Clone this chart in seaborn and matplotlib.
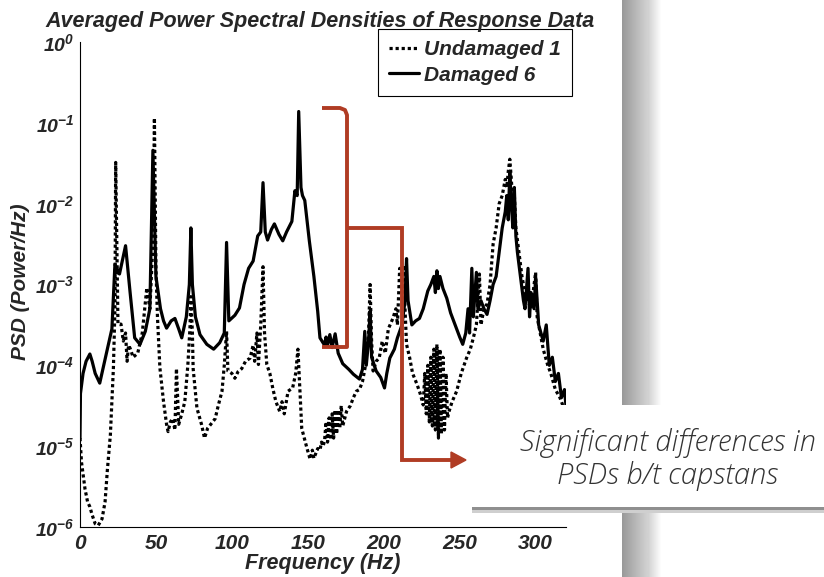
import numpy as np
import pandas as pd
import matplotlib
matplotlib.use("Agg")
import matplotlib.pyplot as plt
import matplotlib.ticker as mticker
from matplotlib.patches import Rectangle, Polygon
import seaborn as sns

# ── Data (PSD given as log10 values) ───────────────────────────────────────
undamaged_freq = [0, 1, 3.3, 5, 6.5, 8, 10, 12, 14.5, 16.5, 18, 20, 22, 23, 23.5, 24.5,
                  25, 27, 28.5, 30, 31, 32, 33, 35, 38, 41, 44, 46, 48, 49, 50, 51,
                  52.6, 55, 57, 58, 59.5, 61, 62.5, 63.5, 65, 67, 69, 71, 72.4, 73, 74, 74.5,
                  77, 80, 82, 84, 86.5, 89, 91, 93.5, 95, 96.5, 97.4, 100, 102, 104, 106.5, 109,
                  112, 114, 115, 116.5, 117.5, 119, 120.5, 121.5, 123, 125, 127, 129, 131.5, 133,
                  134.5, 137, 140, 142, 143.5, 145, 146, 149.5, 151.5, 153, 154, 156.5, 158, 159,
                  160, 161, 162, 163, 164, 165, 166, 167, 168, 169, 170, 171, 172, 173,
                  175.5, 178, 180, 182, 184, 186, 188, 190, 191, 192, 193, 195, 197, 199,
                  201, 203, 206, 208, 209, 210.5, 212, 213, 214, 215, 217, 219, 222, 224,
                  226, 227, 228, 229, 230, 231, 232, 233, 234, 235, 236, 237, 238, 239,
                  240, 241, 242, 243, 245, 248, 251, 254.5, 257, 259, 261, 263, 264, 266,
                  268, 270, 272, 274, 276, 278, 280, 281, 282, 283, 284, 285, 286, 287,
                  289, 291, 293, 295, 297, 299, 300, 301, 303, 305, 308, 310, 313, 316,
                  318, 320]
undamaged_log10psd = [-4.9, -5.2, -5.53, -5.69, -5.75, -5.85, -5.96, -5.98, -5.9, -5.69, -5.3, -4.86, -4.03, -3.3, -1.49, -2.8,
                      -3.49, -3.49, -3.7, -3.6, -3.95, -3.75, -3.79, -3.9, -3.85, -3.6, -3.04, -3.3, -2.5, -0.94, -2.8, -3.4,
                      -4.03, -4.45, -4.73, -4.82, -4.7, -4.66, -4.8, -4.04, -4.73, -4.6, -4.45, -4.0, -3.54, -3.15, -3.6, -4.04,
                      -4.53, -4.73, -4.9, -4.78, -4.72, -4.66, -4.5, -4.32, -4.0, -3.58, -4.07, -4.1, -4.16, -4.08, -4.04, -3.95,
                      -3.91, -3.75, -3.95, -3.6, -3.99, -3.5, -2.78, -3.6, -3.99, -4.1, -4.29, -4.45, -4.57, -4.45,
                      -4.6, -4.32, -4.28, -4.1, -3.8, -4.4, -4.78, -5.03, -5.16, -5.05, -5.15, -5.03, -5.05, -4.95,
                      -5.0, -4.94, -4.7, -4.95, -4.65, -4.92, -4.6, -4.9, -4.55, -4.85, -4.55, -4.78, -4.5, -4.75,
                      -4.57, -4.5, -4.4, -4.32, -4.3, -4.2, -4.0, -3.6, -3.0, -3.7, -4.07, -3.95, -3.91, -3.7,
                      -3.85, -3.55, -3.42, -3.3, -3.5, -2.8, -3.1, -2.76, -3.3, -3.74, -3.9, -4.1, -4.24, -4.35,
                      -4.49, -4.1, -4.6, -4.0, -4.7, -3.9, -4.75, -3.8, -4.8, -3.74, -4.9, -3.8, -4.85, -3.9,
                      -4.8, -4.1, -4.65, -4.57, -4.45, -4.32, -4.1, -3.91, -3.8, -3.66, -3.5, -2.87, -3.5, -3.3,
                      -3.24, -3.0, -2.5, -2.3, -2.0, -1.9, -1.7, -1.8, -1.6, -1.45, -1.7, -2.0, -1.9, -2.3,
                      -2.6, -2.9, -3.1, -3.2, -3.3, -3.0, -2.85, -3.4, -3.6, -3.8, -4.0, -4.1, -4.3, -4.4,
                      -4.5, -4.55]

damaged_freq = [0, 0.3, 2, 4, 6.5, 8, 10, 13, 15, 18, 21, 23, 26, 30, 33, 36,
                39.5, 43, 46, 48, 50, 53, 55, 57, 60, 62.5, 65, 67, 70, 72, 73, 74,
                76, 79, 83.5, 88, 92, 95, 96.5, 98, 102, 105, 108, 111, 114, 117,
                119, 120.5, 122, 123.5, 126, 128, 131, 133.5, 136, 139.5, 141.5, 143, 144, 145.5,
                146.5, 148, 151, 154, 156.5, 158, 161, 162, 163, 164.5, 166, 168, 170, 173,
                177, 180, 184, 186, 187.5, 188.5, 190, 191, 192, 195, 198, 200.5, 202, 204,
                207, 209, 212, 214, 215, 216, 218.5, 221, 223.5, 226, 229, 231, 233, 234,
                235, 236, 237, 239, 241.5, 244, 247, 250, 252, 254, 255.5, 256.5, 258, 259,
                261, 262, 264, 266, 268, 270, 272, 274, 276, 278, 280, 281, 282, 283,
                284, 285, 286, 287, 288, 290, 292, 293, 295, 296, 297, 299, 300, 302,
                305, 307, 309, 311, 313, 315, 317, 319, 320]
damaged_log10psd = [-4.9, -4.35, -4.1, -3.95, -3.86, -3.95, -4.1, -4.22, -4.05, -3.8, -3.55, -2.75, -2.87, -2.52, -3.1, -3.66,
                    -3.74, -3.58, -3.3, -1.34, -2.9, -3.3, -3.45, -3.54, -3.45, -3.42, -3.55, -3.66, -3.4, -3.0, -2.3, -3.0,
                    -3.4, -3.62, -3.74, -3.8, -3.72, -3.6, -2.48, -3.45, -3.38, -3.29, -3.0, -2.8, -2.71, -2.4,
                    -2.35, -1.74, -2.35, -2.45, -2.32, -2.25, -2.38, -2.46, -2.35, -2.22, -1.84, -1.9, -0.86, -1.8,
                    -1.9, -1.96, -2.46, -2.9, -3.33, -3.66, -3.75, -3.65, -3.75, -3.62, -3.78, -3.61, -3.85, -3.98,
                    -4.05, -4.11, -4.17, -4.05, -3.58, -4.0, -3.7, -3.33, -3.9, -4.07, -4.15, -4.28, -4.1, -3.91,
                    -3.8, -3.66, -3.5, -3.2, -2.68, -3.2, -3.5, -3.45, -3.42, -3.3, -3.08, -3.0, -2.9, -3.1,
                    -2.83, -3.05, -2.9, -3.05, -3.17, -3.35, -3.5, -3.65, -3.74, -3.6, -3.3, -3.6, -2.8, -3.4,
                    -2.85, -3.3, -3.2, -3.3, -3.37, -3.2, -3.0, -2.9, -2.6, -2.3, -2.1, -1.9, -2.2, -1.6,
                    -2.0, -2.3, -1.8, -2.4, -2.6, -2.9, -3.2, -3.3, -2.8, -3.4, -3.1, -3.3, -2.9, -3.5,
                    -3.7, -3.5, -4.0, -3.9, -4.2, -4.1, -4.4, -4.3, -4.5]

series_labels = ["Undamaged 1", "Damaged 6"]
x_ticks = [0, 50, 100, 150, 200, 250, 300]
y_exponents = [-6, -5, -4, -3, -2, -1, 0]

# ── Style ──────────────────────────────────────────────────────────────────
sns.set_theme(style="white")
plt.rcParams["font.family"] = ["Liberation Sans", "DejaVu Sans"]
plt.rcParams["mathtext.fontset"] = "custom"
plt.rcParams["mathtext.rm"] = "Liberation Sans:italic:bold"
plt.rcParams["mathtext.it"] = "Liberation Sans:italic:bold"
plt.rcParams["mathtext.bf"] = "Liberation Sans:italic:bold"

W, H = 824, 577
fig = plt.figure(figsize=(W / 100, H / 100), dpi=100)
fig.patch.set_facecolor("white")

# axes box in pixels: left 80, right 566, top 42, bottom 527
ax = fig.add_axes([80 / W, 1 - 527 / H, 486 / W, 485 / H])
ax.set_facecolor("white")

undamaged = pd.DataFrame({"freq": undamaged_freq, "psd": 10.0 ** np.array(undamaged_log10psd)})
damaged = pd.DataFrame({"freq": damaged_freq, "psd": 10.0 ** np.array(damaged_log10psd)})

sns.lineplot(data=undamaged, x="freq", y="psd", ax=ax, color="black", linewidth=2.3,
             linestyle=(0, (1, 0.9)), label=series_labels[0], estimator=None)
sns.lineplot(data=damaged, x="freq", y="psd", ax=ax, color="black", linewidth=2.3,
             label=series_labels[1], estimator=None)

ax.set_yscale("log")
ax.set_xlim(0, 320)
ax.set_ylim(1e-6, 1)
ax.set_xticks(x_ticks)
ax.set_xticklabels([str(t) for t in x_ticks], fontsize=15, fontweight="bold", fontstyle="italic")
ax.set_yticks([10.0 ** e for e in y_exponents])
ax.set_yticklabels([r"$10^{%d}$" % e for e in y_exponents], fontsize=14)
ax.yaxis.set_minor_locator(mticker.LogLocator(base=10, subs=np.arange(2, 10), numticks=20))
ax.yaxis.set_minor_formatter(mticker.NullFormatter())
ax.tick_params(axis="both", which="major", direction="in", length=5, width=0.8, color="black")
ax.tick_params(axis="y", which="major", pad=4)
ax.tick_params(axis="x", which="major", pad=5)
ax.tick_params(axis="y", which="minor", direction="in", length=3, width=0.6, color="black")
ax.tick_params(axis="x", which="minor", bottom=False)
for side in ["top", "right"]:
    ax.spines[side].set_visible(False)
for side in ["left", "bottom"]:
    ax.spines[side].set_color("black")
    ax.spines[side].set_linewidth(0.8)
ax.set_xlabel("")
ax.set_ylabel("")

leg = ax.legend(loc="upper left", bbox_to_anchor=(378 / W, 1 - 29 / H),
                bbox_transform=fig.transFigure, frameon=True, fancybox=False,
                edgecolor="black", framealpha=1, borderpad=0.55, handlelength=1.4,
                handletextpad=0.25, labelspacing=0.3, borderaxespad=0,
                prop={"weight": "bold", "style": "italic", "size": 15})
leg.get_frame().set_linewidth(0.8)

fig.text(320 / W, 1 - 21 / H, "Averaged Power Spectral Densities of Response Data",
         ha="center", va="center", fontsize=15.5, fontweight="bold", fontstyle="italic")
fig.text(21 / W, 1 - 282 / H, "PSD (Power/Hz)", rotation=90, ha="center", va="center",
         fontsize=15, fontweight="bold", fontstyle="italic")
fig.text(323 / W, 1 - 563 / H, "Frequency (Hz)", ha="center", va="center",
         fontsize=15.5, fontweight="bold", fontstyle="italic")

# ── Overlay in pixel coordinates: slide bar, bracket, callout ─────────────
ov = fig.add_axes([0, 0, 1, 1], zorder=5)
ov.set_xlim(0, W)
ov.set_ylim(H, 0)
ov.axis("off")
ov.patch.set_alpha(0)

shade = np.concatenate([np.linspace(0.6, 0.82, 26), np.linspace(0.82, 1.0, 14)])
ov.imshow(shade[np.newaxis, :], cmap="gray", vmin=0, vmax=1, aspect="auto",
          extent=(622, 662, H, 0), zorder=1, interpolation="bilinear")

red = "#b03c24"
ov.plot([322, 340, 345, 347, 347, 322], [108, 108, 110, 115, 347, 347], color=red,
        lw=2.8, solid_joinstyle="round", solid_capstyle="butt", zorder=4)
ov.plot([347, 402, 402, 452], [228, 228, 460, 460], color=red, lw=2.8,
        solid_joinstyle="miter", solid_capstyle="butt", zorder=4)
ov.add_patch(Polygon([(451, 452), (466, 460), (451, 468)], closed=True, color=red, zorder=4))

ov.add_patch(Rectangle((472, 405), W - 472, 103, facecolor="white", edgecolor="none", zorder=3))
ov.add_patch(Rectangle((472, 507), W - 472, 3, facecolor="#8f8f8f", edgecolor="none", zorder=3))
ov.add_patch(Rectangle((472, 510), W - 472, 3, facecolor="#cfcfcf", edgecolor="none", zorder=3))
ov.text(668, 443, "Significant differences in", ha="center", va="center", fontsize=21,
        family=["Open Sans", "DejaVu Sans"], fontstyle="italic", fontweight="light",
        color="#333333", zorder=5)
ov.text(668, 476, "PSDs b/t capstans", ha="center", va="center", fontsize=21,
        family=["Open Sans", "DejaVu Sans"], fontstyle="italic", fontweight="light",
        color="#333333", zorder=5)

fig.savefig("out.png", dpi=100)
